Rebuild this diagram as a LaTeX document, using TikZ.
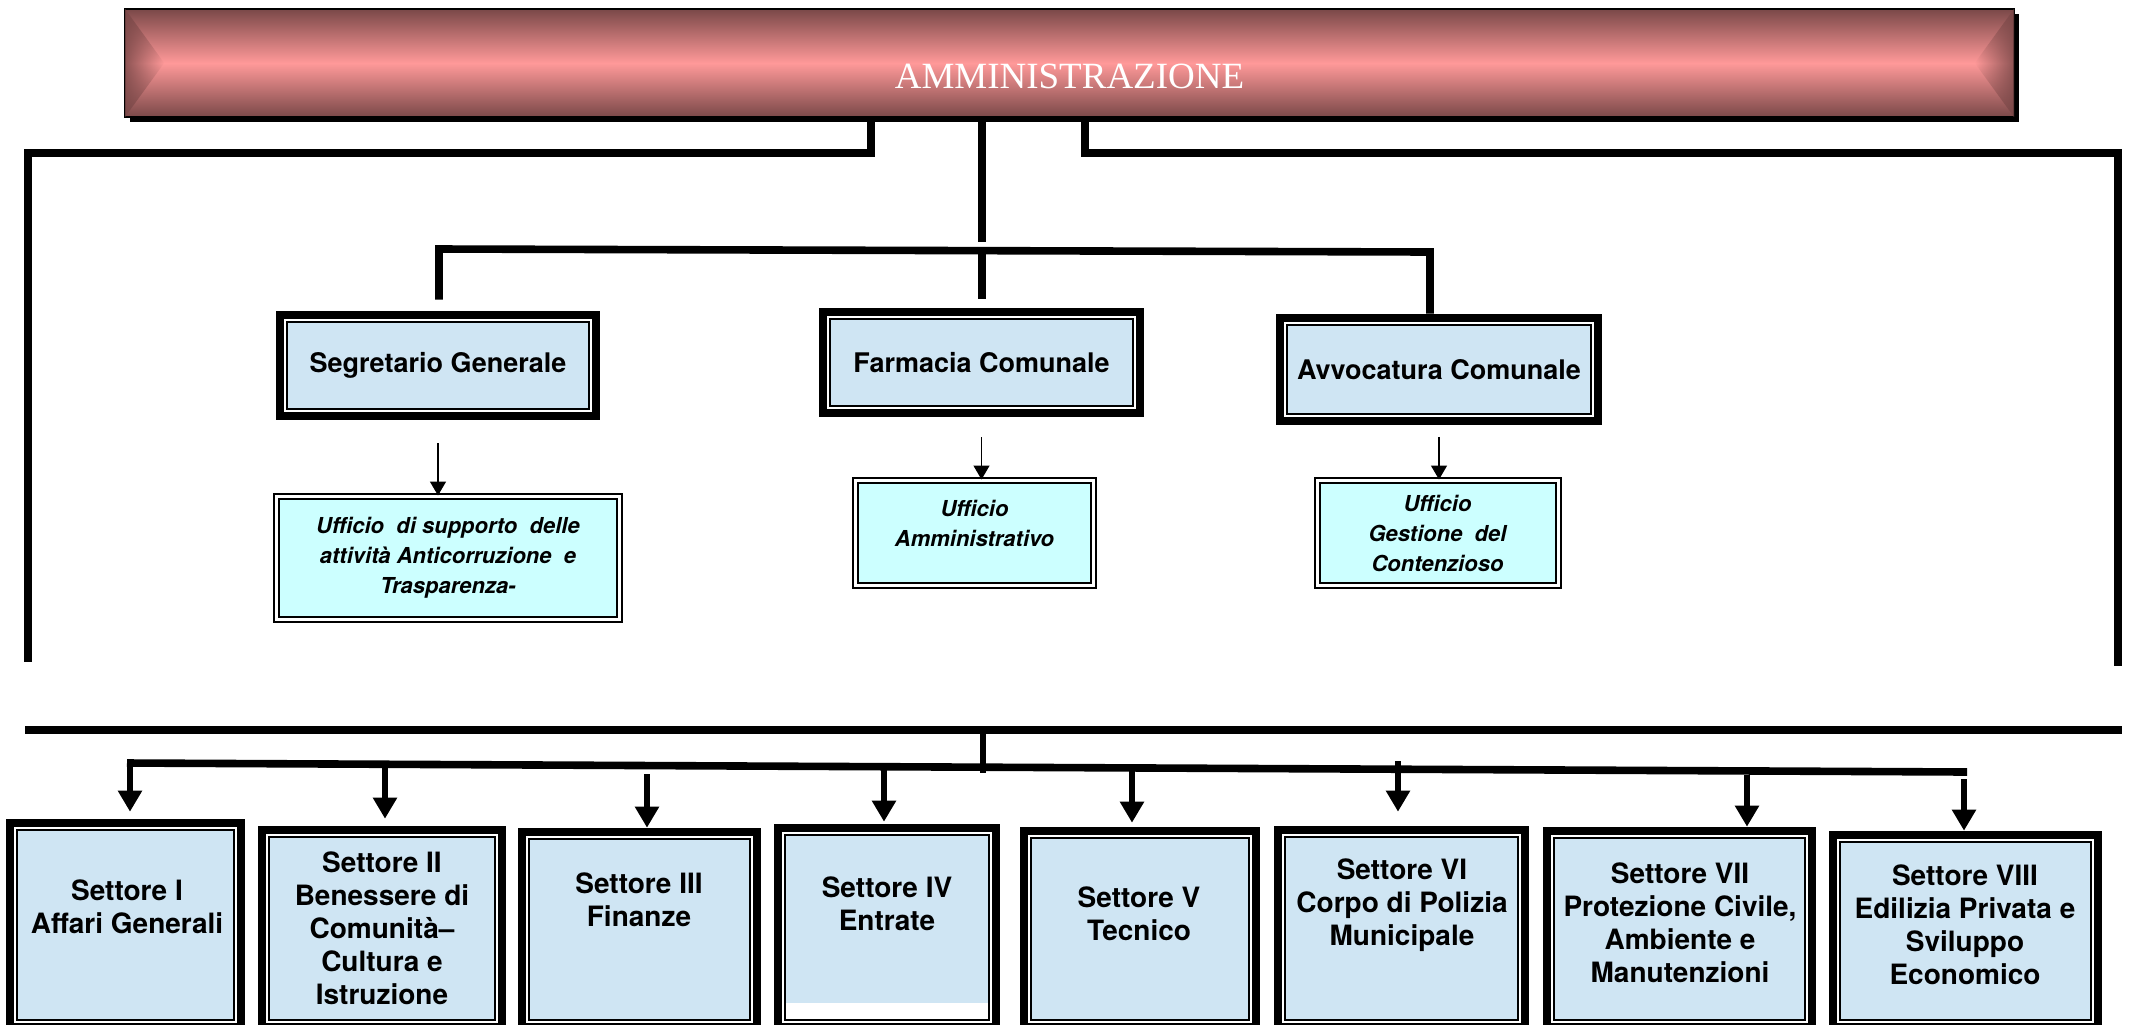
\documentclass[tikz,border=0pt]{standalone}
\usepackage{fontspec}
\setmainfont{TeX Gyre Heros}
\newfontfamily\admfont{Liberation Serif}
\usetikzlibrary{arrows.meta,shadows,fadings}

\definecolor{unitblue}{RGB}{207,229,243}
\definecolor{officecyan}{RGB}{204,255,255}
\definecolor{admdark}{RGB}{122,72,72}
\definecolor{admpink}{RGB}{255,153,153}

\tikzset{
  unit/.style={draw=black, line width=4.3pt, fill=unitblue, inner sep=0pt,
    font=\fontsize{13.5}{16}\selectfont\bfseries,
    path picture={
      \draw[white, line width=0.9pt]
        ([shift={(2.6pt,2.6pt)}]path picture bounding box.south west) rectangle
        ([shift={(-2.6pt,-2.6pt)}]path picture bounding box.north east);
      \draw[black, line width=0.85pt]
        ([shift={(3.45pt,3.45pt)}]path picture bounding box.south west) rectangle
        ([shift={(-3.45pt,-3.45pt)}]path picture bounding box.north east);
    }},
  office/.style={draw=black, line width=1pt, double=white, double distance=1.5pt,
    fill=officecyan, inner sep=0pt, align=center,
    font=\fontsize{11}{15}\selectfont\bfseries\itshape},
  sectortext/.style={align=center, font=\fontsize{14}{16.5}\selectfont\bfseries},
  bar/.style={line width=3.8pt},
  bigarrow/.style={line width=3.2pt, -{Triangle[width=11.5pt,length=10.5pt]}},
  smallarrow/.style={line width=0.75pt, -{Triangle[width=8pt,length=7pt]}},
}

\begin{document}
\begin{tikzpicture}[x=0.5pt,y=-0.5pt]
    \useasboundingbox (0,0) rectangle (2130,1024);
    \node[draw=black, line width=0.8pt, minimum width=944.5pt, minimum height=54pt, inner sep=0pt,
      top color=admdark, bottom color=admdark, middle color=admpink,
      drop shadow={shadow xshift=2.5pt, shadow yshift=-2.5pt, opacity=1, fill=black},
      text=white, font=\admfont\fontsize{18.5}{20}\selectfont, text height=25pt, text depth=0pt]
      (adm) at (1069.5,63) {AMMINISTRAZIONE};
    \fill[admdark, fill opacity=0.85, path fading=east] ([shift={(0.4pt,-0.4pt)}]adm.north west) -- ([xshift=20pt]adm.west) -- ([shift={(0.4pt,0.4pt)}]adm.south west) -- cycle;
    \fill[admdark, fill opacity=0.85, path fading=west] ([shift={(-0.4pt,-0.4pt)}]adm.north east) -- ([xshift=-20pt]adm.east) -- ([shift={(-0.4pt,0.4pt)}]adm.south east) -- cycle;

    \node[unit, minimum width=158pt, minimum height=50.5pt] (seg) at (438,365.5) {Segretario Generale};
    \node[unit, minimum width=158.5pt, minimum height=50.5pt] (farm) at (981.5,362.5) {Farmacia Comunale};
    \node[unit, minimum width=159pt, minimum height=51.5pt] (avv) at (1439,369.5) {Avvocatura Comunale};

    \node[office, minimum width=171.5pt, minimum height=61.5pt] (uff1) at (448,558) {Ufficio\ \ di supporto\ \ delle\\attività Anticorruzione\ \ e\\Trasparenza-};
    \node[office, minimum width=119pt, minimum height=52.5pt] (uff2) at (974.5,533) {Ufficio\\Amministrativo\\[-5pt]\mbox{}};
    \node[office, minimum width=120.5pt, minimum height=52.5pt] (uff3) at (1437.5,533) {Ufficio\\Gestione\ \ del\\Contenzioso};

    \coordinate (lknee) at (871,153);
    \coordinate (lfoot) at (28,662);
    \coordinate (rknee) at (1085,153);
    \coordinate (rfoot) at (2118,666);
    \draw[bar] (lknee |- adm.south) -- (lknee) -- (lfoot |- lknee) -- (lfoot);
    \draw[bar] (rknee |- adm.south) -- (rknee) -- (rfoot |- rknee) -- (rfoot);
    \coordinate (hub) at (982,242);
    \draw[bar] (hub |- adm.south) -- (hub);
    \coordinate (tl) at (439,249);
    \coordinate (tr) at (1430,252);
    \draw[bar, shorten <=5.5pt] (tl |- seg.north) -- (tl) -- (tr) -- (tr |- avv.north);
    \draw[bar, shorten >=4.5pt] (hub |- tl) -- (hub |- farm.north);

    \draw[smallarrow] ([yshift=-11.5pt]seg.south) -- (seg.south |- uff1.north);
    \draw[smallarrow] ([yshift=-10pt]farm.south) -- (farm.south |- uff2.north);
    \draw[smallarrow] ([yshift=-5.8pt]avv.south) -- (avv.south |- uff3.north);

    \node[unit, minimum width=115.5pt, minimum height=102pt] (s1) at (125.5,925) {};
    \node[unit, minimum width=120pt, minimum height=98.5pt] (s2) at (382,928.5) {};
    \node[unit, minimum width=117.5pt, minimum height=97.5pt] (s3) at (639.5,929.5) {};
    \node[unit, minimum width=109pt, minimum height=99.5pt] (s4) at (887,927.5) {};
    \node[unit, minimum width=116pt, minimum height=98pt] (s5) at (1140,929) {};
    \node[unit, minimum width=123.5pt, minimum height=98.5pt] (s6) at (1401.5,928.5) {};
    \node[unit, minimum width=132.5pt, minimum height=98pt] (s7) at (1679.5,929) {};
    \node[unit, minimum width=132.5pt, minimum height=96pt] (s8) at (1965.5,931) {};
    \fill[white] (786,1003) rectangle (988,1019);

    \node[sectortext] (t1) at (127,906.5) {Settore I\\Affari Generali};
    \node[sectortext] (t2) at (382,928) {Settore II\\Benessere di\\Comunità–\\Cultura e\\Istruzione};
    \node[sectortext] (t3) at (639,900) {Settore III\\Finanze};
    \node[sectortext] (t4) at (887,903.5) {Settore IV\\Entrate};
    \node[sectortext] (t5) at (1139,913.5) {Settore V\\Tecnico};
    \node[sectortext] (t6) at (1402,905) {Settore VI\\Corpo di Polizia\\Municipale};
    \node[sectortext] (t7) at (1680,922.5) {Settore VII\\Protezione Civile,\\Ambiente e\\Manutenzioni};
    \node[sectortext] (t8) at (1965,925) {Settore VIII\\Edilizia Privata e\\Sviluppo\\Economico};

    \coordinate (busL) at (25,730);
    \coordinate (busR) at (2122,730);
    \draw[bar] (busL) -- (busR);
    \coordinate (drop) at (983,773);
    \draw[line width=3.2pt] (drop |- busL) -- (drop);
    \coordinate (railL) at (127,763);
    \coordinate (railR) at (1967,772);
    \draw[bar] (railL) -- (railR);

    \coordinate (j1) at (130,763);
    \coordinate (j2) at (385,764);
    \coordinate (j3) at (647,774);
    \coordinate (j4) at (884,767);
    \coordinate (j5) at (1132,768);
    \coordinate (j6) at (1398,761);
    \coordinate (j7) at (1747,775);
    \coordinate (j8) at (1964,779);
    \draw[bigarrow, shorten >=3.5pt] (j1) -- (j1 |- s1.north);
    \draw[bigarrow, shorten >=3.5pt] (j2) -- (j2 |- s2.north);
    \draw[bigarrow] (j3) -- (j3 |- s3.north);
    \draw[bigarrow, shorten >=1pt] (j4) -- (j4 |- s4.north);
    \draw[bigarrow, shorten >=2pt] (j5) -- (j5 |- s5.north);
    \draw[bigarrow, shorten >=7pt] (j6) -- (j6 |- s6.north);
    \draw[bigarrow] (j7) -- (j7 |- s7.north);
    \draw[bigarrow] (j8) -- (j8 |- s8.north);
\end{tikzpicture}
\end{document}
